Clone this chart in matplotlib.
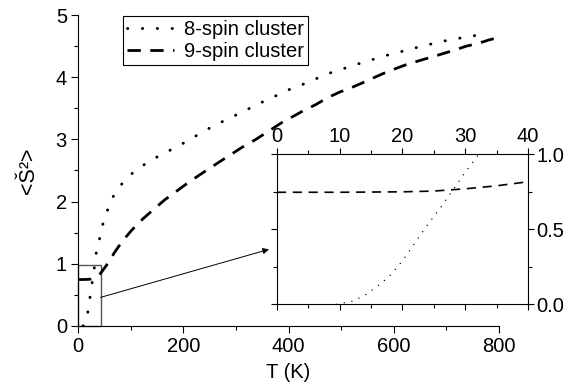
import matplotlib
matplotlib.use("Agg")
import matplotlib.pyplot as plt
from matplotlib.patches import Rectangle
from matplotlib.ticker import MultipleLocator, FormatStrFormatter

plt.rcParams['font.family'] = ['Liberation Sans', 'DejaVu Sans']
plt.rcParams['font.size'] = 14.5

# 8-spin cluster, <S^2> vs T (K)
t8 = [9.5, 12, 14, 16, 18, 20, 22, 24, 26, 28, 30, 32, 35, 42, 47, 56, 66, 83,
      106, 132, 157, 183, 207, 233, 258, 285, 312, 340, 373, 401, 426, 451, 476,
      502, 527, 566, 598, 628, 653, 680, 705, 727, 749, 775]
s8 = [0.0, 0.02, 0.06, 0.12, 0.19, 0.29, 0.41, 0.53, 0.64, 0.76, 0.88, 0.99,
      1.2, 1.44, 1.63, 1.86, 2.07, 2.28, 2.48, 2.63, 2.75, 2.86, 2.97, 3.10,
      3.22, 3.33, 3.44, 3.56, 3.69, 3.80, 3.88, 3.97, 4.06, 4.13, 4.20, 4.30,
      4.38, 4.44, 4.50, 4.55, 4.60, 4.63, 4.66, 4.71]

# 9-spin cluster
t9 = [0, 10, 20, 25, 30, 35, 40, 45, 57, 70, 85, 102, 123, 143, 165, 186, 207,
      226, 249, 269, 291, 313, 336, 360, 389, 411, 430, 452, 474, 497, 516, 538,
      559, 580, 601, 623, 650, 686, 717, 738, 759, 781, 800]
s9 = [0.747, 0.747, 0.75, 0.755, 0.77, 0.79, 0.817, 0.87, 1.01, 1.19, 1.37,
      1.54, 1.72, 1.87, 2.03, 2.16, 2.29, 2.40, 2.53, 2.64, 2.76, 2.88, 2.99,
      3.12, 3.28, 3.38, 3.47, 3.56, 3.67, 3.76, 3.82, 3.90, 3.98, 4.06, 4.13,
      4.20, 4.27, 4.36, 4.44, 4.50, 4.54, 4.60, 4.64]

labels = ['8-spin cluster', '9-spin cluster']

fig = plt.figure(figsize=(5.71, 3.89), dpi=100)
ax = fig.add_axes([0.1366, 0.162, 0.7374, 0.7994])

ax.plot(t8, s8, color='black', lw=2.1, linestyle=(0, (0.1, 5.0)),
        dash_capstyle='round', label=labels[0])
ax.plot(t9, s9, color='black', lw=2.0, linestyle=(0, (4.8, 3.4)),
        label=labels[1])

ax.set_xlim(0, 800)
ax.set_ylim(0, 5)
ax.xaxis.set_major_locator(MultipleLocator(200))
ax.xaxis.set_minor_locator(MultipleLocator(100))
ax.yaxis.set_major_locator(MultipleLocator(1))
ax.yaxis.set_minor_locator(MultipleLocator(0.5))
ax.tick_params(which='major', direction='out', length=5, width=0.8, pad=3)
ax.tick_params(which='minor', direction='out', length=3, width=0.8)
for side in ['top', 'right']:
    ax.spines[side].set_visible(False)
for side in ['left', 'bottom']:
    ax.spines[side].set_linewidth(0.8)
ax.set_xlabel('T (K)', labelpad=5)
ax.set_ylabel('<Š²>', fontsize=15.5, labelpad=12)

leg = ax.legend(loc='upper left', bbox_to_anchor=(0.098, 1.01), frameon=True,
                fancybox=False, edgecolor='black', framealpha=1,
                handlelength=2.3, handletextpad=0.5, borderpad=0.2,
                labelspacing=0.15, borderaxespad=0.2)
leg.get_frame().set_linewidth(0.8)

# zoom box in main plot
ax.add_patch(Rectangle((0, 0), 43, 0.98, fill=False, edgecolor='#555555',
                       lw=1.0, clip_on=False))

# arrow from the zoom box to the inset
ax.annotate('', xy=(0.471, 0.359), xycoords='figure fraction',
            xytext=(43, 0.46), textcoords='data',
            arrowprops=dict(arrowstyle='-|>', color='black', lw=0.7,
                            shrinkA=0, shrinkB=0, mutation_scale=9))

# inset
ins = fig.add_axes([0.485, 0.2177, 0.4396, 0.3856])
ins.plot(t8, s8, color='black', lw=1.0, linestyle=(0, (0.1, 5.5)),
         dash_capstyle='round')
ins.plot(t9, s9, color='black', lw=1.2, linestyle=(0, (5.5, 4.0)))
ins.set_xlim(0, 40)
ins.set_ylim(0, 1)
ins.xaxis.set_major_locator(MultipleLocator(10))
ins.xaxis.set_minor_locator(MultipleLocator(5))
ins.yaxis.set_major_locator(MultipleLocator(0.5))
ins.yaxis.set_minor_locator(MultipleLocator(0.25))
ins.yaxis.set_major_formatter(FormatStrFormatter('%.1f'))
ins.tick_params(which='both', direction='out', top=True, right=True,
                bottom=True, left=True, labeltop=True, labelbottom=False,
                labelright=True, labelleft=False, width=0.8, pad=2)
ins.tick_params(which='major', length=4)
ins.tick_params(which='minor', length=3)
for s in ins.spines.values():
    s.set_linewidth(0.8)

fig.savefig('out.png', dpi=100)
